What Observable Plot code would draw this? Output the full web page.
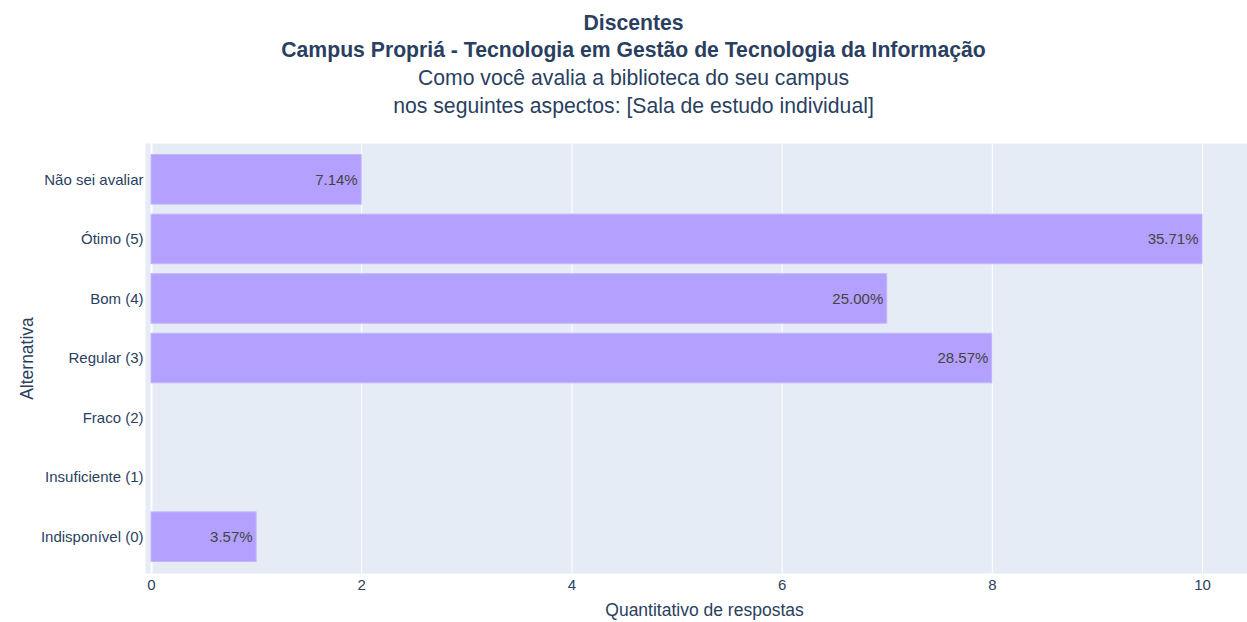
<!DOCTYPE html>
<html>
<head>
<meta charset="utf-8">
<script src="https://cdn.jsdelivr.net/npm/d3@7"></script>
<script src="https://cdn.jsdelivr.net/npm/@observablehq/plot@0.6"></script>
<style>
  html, body { margin: 0; padding: 0; background: #fff; overflow: hidden; }
  #wrap { width: 1267px; font-family: "Liberation Sans", Arial, sans-serif; color: #2a3f5f; }
  #title { height: 143px; position: relative; text-align: center; }
  #title div { position: absolute; left: 0; width: 1267px; line-height: 22px; }
  .b { font-weight: bold; font-size: 21.2px; }
  .n { font-size: 21.2px; }
</style>
</head>
<body>
<div id="wrap">
  <div id="title">
    <div class="b" style="top:12px">Discentes</div>
    <div class="b" style="top:39px">Campus Propriá - Tecnologia em Gestão de Tecnologia da Informação</div>
    <div class="n" style="top:67px">Como você avalia a biblioteca do seu campus</div>
    <div class="n" style="top:95px">nos seguintes aspectos: [Sala de estudo individual]</div>
  </div>
  <div id="chart"></div>
</div>
<script>
const categories = ["Não sei avaliar", "Ótimo (5)", "Bom (4)", "Regular (3)", "Fraco (2)", "Insuficiente (1)", "Indisponível (0)"];
const counts = [2, 10, 7, 8, 0, 0, 1];
const percents = ["7.14%", "35.71%", "25.00%", "28.57%", "", "", "3.57%"];
const xTicks = [0, 2, 4, 6, 8, 10];

const data = categories.map((c, i) => ({cat: c, count: counts[i], pct: percents[i]}));
const bars = data.filter(d => d.count > 0);

const chart = Plot.plot({
  width: 1267,
  height: 479,
  marginTop: 0,
  marginBottom: 49,
  marginLeft: 145,
  marginRight: 4,
  style: {fontFamily: "'Liberation Sans', Arial, sans-serif", fontSize: "15px", color: "#2a3f5f", background: "white"},
  x: {domain: [-0.057, 10.58], ticks: xTicks, label: "Quantitativo de respostas", labelAnchor: "center", labelArrow: "none", labelOffset: 42, tickSize: 0, tickPadding: 6},
  y: {domain: categories, round: false, paddingInner: 0.168, paddingOuter: 0.194, label: "Alternativa", labelAnchor: "center", labelArrow: "none", labelOffset: 125, tickSize: 0, tickPadding: 2},
  marks: [
    Plot.frame({fill: "#E5ECF6", stroke: null}),
    Plot.gridX(xTicks.filter(t => t > 0), {stroke: "white", strokeOpacity: 1, strokeWidth: 1}),
    Plot.ruleX([0], {stroke: "white", strokeWidth: 2}),
    Plot.barX(bars, {x: "count", y: "cat", fill: "#b3a0ff", stroke: "#c4b6ff", strokeWidth: 1}),
    Plot.text(bars, {x: "count", y: "cat", text: "pct", textAnchor: "end", dx: -4, fill: "#444", fontSize: 15}),
    Plot.axisX({ticks: xTicks, tickSize: 0, tickPadding: 6, fontSize: 15, label: "Quantitativo de respostas", labelAnchor: "center", labelArrow: "none", labelOffset: 42}),
    Plot.axisY({tickSize: 0, tickPadding: 2, fontSize: 15, label: "Alternativa", labelAnchor: "center", labelArrow: "none", labelOffset: 125})
  ]
});
document.getElementById("chart").appendChild(chart);
chart.querySelectorAll("g[aria-label='x-axis label'] text, g[aria-label='y-axis label'] text").forEach(t => t.setAttribute("font-size", "17.5"));
</script>
</body>
</html>
